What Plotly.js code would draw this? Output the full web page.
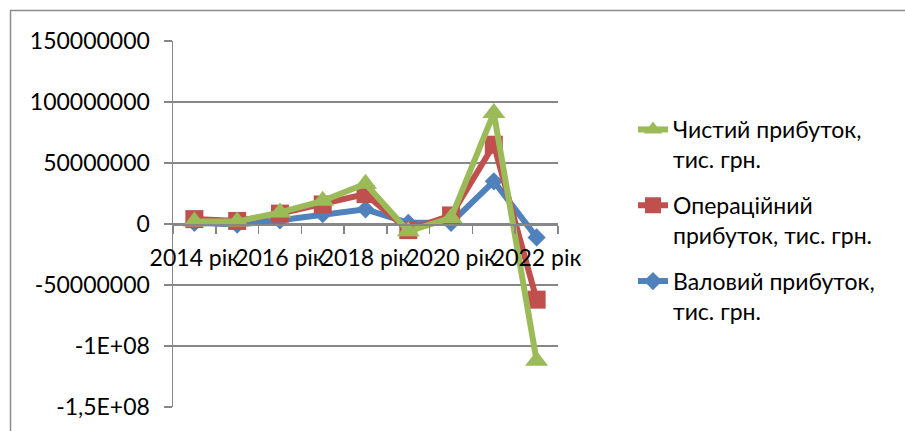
<!DOCTYPE html>
<html>
<head>
<meta charset="utf-8">
<script src="https://cdn.plot.ly/plotly-3.0.1.min.js"></script>
<style>html,body{margin:0;padding:0;background:#fff;}#chart{width:905px;height:431px;}</style>
</head>
<body>
<div id="chart"></div>
<script>
const categories = ['2014 рік','2015 рік','2016 рік','2017 рік','2018 рік','2019 рік','2020 рік','2021 рік','2022 рік'];
const tickLabels = ['2014 рік','','2016 рік','','2018 рік','','2020 рік','','2022 рік'];
const grossProfit = [1e6, -0.5e6, 3e6, 8e6, 12e6, 1e6, 1e6, 35e6, -11e6];
const operatingProfit = [4e6, 2.5e6, 8.5e6, 16e6, 24.5e6, -5e6, 7e6, 65e6, -62e6];
const netProfit = [2e6, 2e6, 9.5e6, 19e6, 33e6, -6e6, 5e6, 91e6, -112e6];
const seriesNames = ['Валовий прибуток,<br>тис. грн.', 'Операційний<br>прибуток, тис. грн.', 'Чистий прибуток,<br>тис. грн.'];
const yTickVals = [150000000, 100000000, 50000000, 0, -50000000, -100000000, -150000000];
const yTickText = ['150000000','100000000','50000000','0','-50000000','-1E+08','-1,5E+08'];

const FONT = 'Lato, Carlito, "Noto Sans", sans-serif';
const FS = 23;
const grid = '#878787';

const traces = [
  {x: categories, y: grossProfit, name: seriesNames[0], type: 'scatter', mode: 'lines+markers', legendrank: 3,
   legendgroup: 'a', line: {color: '#4F81BD', width: 6}, marker: {symbol: 'diamond', size: 14, color: '#4F81BD'}},
  {x: categories, y: operatingProfit, name: seriesNames[1], type: 'scatter', mode: 'lines+markers', legendrank: 2,
   legendgroup: 'b', line: {color: '#C0504D', width: 6}, marker: {symbol: 'square', size: 18, color: '#C0504D'}},
  {x: categories, y: netProfit, name: seriesNames[2], type: 'scatter', mode: 'lines+markers', legendrank: 1,
   legendgroup: 'c', line: {color: '#9BBB59', width: 6}, marker: {symbol: 'triangle-up', size: 20, color: '#9BBB59'}}
];

const L = 173, R = 558, T = 41, B = 407;
const W = 905, H = 431;
const px = v => (v - L) / (R - L);
const py = v => (B - v) / (B - T);

const layout = {
  width: W, height: H,
  margin: {l: L, r: W - R, t: T, b: H - B, pad: 0},
  paper_bgcolor: '#fff', plot_bgcolor: '#fff',
  font: {family: FONT, size: FS, color: '#000'},
  showlegend: true,
  legend: {x: px(633), y: py(108), xanchor: 'left', yanchor: 'top', traceorder: 'grouped',
           tracegroupgap: 13, valign: 'top', font: {family: FONT, size: FS, color: '#000'}, bgcolor: 'rgba(0,0,0,0)'},
  xaxis: {type: 'category', anchor: 'free', position: 0.5, showline: true, linecolor: grid, linewidth: 1.5,
          ticks: 'outside', ticklen: 8, tickwidth: 1.5, tickcolor: grid, tickson: 'boundaries',
          tickmode: 'array', tickvals: categories, ticktext: tickLabels, tickangle: 0,
          showgrid: false, zeroline: false, ticklabelstandoff: 13,
          tickfont: {family: FONT, size: FS, color: '#000'}, range: [-0.5, 8.5]},
  yaxis: {range: [-150000000, 150000000], tickmode: 'array', tickvals: yTickVals, ticktext: yTickText,
          showline: true, linecolor: grid, linewidth: 1.5, ticks: 'outside', ticklen: 8, tickwidth: 1.5, tickcolor: grid,
          showgrid: true, gridcolor: grid, gridwidth: 1.5, zeroline: false, ticklabelstandoff: 9,
          tickfont: {family: FONT, size: FS, color: '#000'}},
  shapes: [{type: 'rect', xref: 'paper', yref: 'paper', x0: px(10.5), x1: px(920), y0: py(450), y1: py(10.5),
            line: {color: '#8c8c8c', width: 1.5}, fillcolor: 'rgba(0,0,0,0)', layer: 'below'}]
};

Plotly.newPlot('chart', traces, layout, {displayModeBar: false, staticPlot: true});
</script>
</body>
</html>
